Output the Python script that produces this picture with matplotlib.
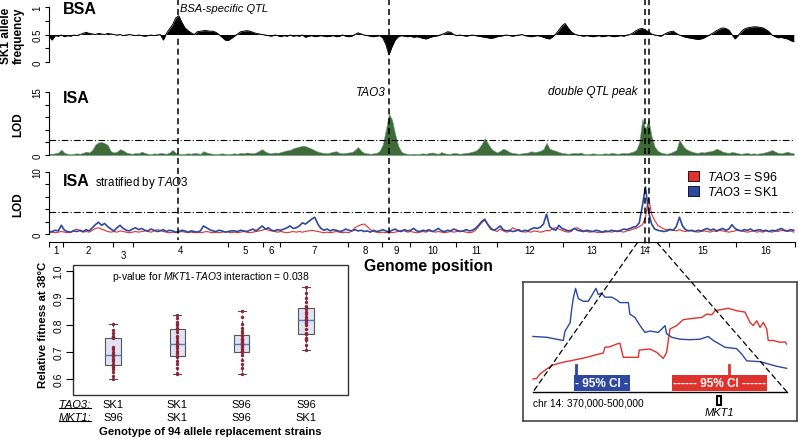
import numpy as np
import matplotlib
matplotlib.use('Agg')
import matplotlib.pyplot as plt
from matplotlib.patches import Rectangle, Patch, ConnectionPatch
from matplotlib.lines import Line2D
from matplotlib.transforms import blended_transform_factory

plt.rcParams['font.family'] = 'Liberation Sans'
plt.rcParams['mathtext.fontset'] = 'custom'
plt.rcParams['mathtext.it'] = 'Liberation Sans:italic'
plt.rcParams['mathtext.rm'] = 'Liberation Sans'
plt.rcParams['mathtext.bf'] = 'Liberation Sans:bold'

# --- data -------------------------------------------------------------
# yeast chromosome lengths (Mb), chromosomes 1..16
chrom_len = [0.230, 0.813, 0.317, 1.532, 0.577, 0.270, 1.091, 0.563,
             0.440, 0.745, 0.667, 1.078, 0.924, 0.784, 1.091, 0.948]
chrom_names = [str(i) for i in range(1, 17)]

# genome scan sampled every 50 kb along the concatenated genome
scan_step_mb = 0.05
bsa_freq = [
    0.47, 0.40, 0.48, 0.47, 0.49, 0.46, 0.48, 0.47, 0.49, 0.48,
    0.50, 0.52, 0.54, 0.52, 0.51, 0.50, 0.52, 0.51, 0.50, 0.52,
    0.51, 0.50, 0.49, 0.50, 0.48, 0.49, 0.50, 0.49, 0.48, 0.49,
    0.48, 0.47, 0.48, 0.49, 0.48, 0.49, 0.50, 0.40, 0.52, 0.60,
    0.68, 0.80, 0.84, 0.72, 0.62, 0.57, 0.53, 0.50, 0.55, 0.56,
    0.57, 0.57, 0.56, 0.56, 0.54, 0.50, 0.45, 0.40, 0.39, 0.43,
    0.47, 0.51, 0.55, 0.56, 0.57, 0.56, 0.54, 0.52, 0.51, 0.50,
    0.49, 0.48, 0.47, 0.49, 0.48, 0.46, 0.48, 0.47, 0.49, 0.47,
    0.48, 0.47, 0.49, 0.45, 0.47, 0.48, 0.46, 0.47, 0.48, 0.47,
    0.46, 0.47, 0.48, 0.46, 0.47, 0.49, 0.47, 0.46, 0.47, 0.50,
    0.53, 0.51, 0.49, 0.48, 0.47, 0.46, 0.47, 0.48, 0.44, 0.32,
    0.13, 0.28, 0.40, 0.46, 0.48, 0.47, 0.46, 0.47, 0.45, 0.46,
    0.45, 0.43, 0.42, 0.44, 0.46, 0.47, 0.48, 0.50, 0.52, 0.55,
    0.54, 0.50, 0.48, 0.49, 0.48, 0.47, 0.48, 0.49, 0.48, 0.47,
    0.46, 0.45, 0.44, 0.43, 0.44, 0.46, 0.47, 0.48, 0.49, 0.48,
    0.47, 0.48, 0.49, 0.50, 0.48, 0.47, 0.46, 0.47, 0.48, 0.47,
    0.45, 0.43, 0.42, 0.46, 0.51, 0.58, 0.66, 0.70, 0.62, 0.55,
    0.51, 0.49, 0.48, 0.47, 0.48, 0.47, 0.46, 0.47, 0.48, 0.46,
    0.47, 0.48, 0.47, 0.46, 0.47, 0.48, 0.47, 0.49, 0.50, 0.53,
    0.57, 0.60, 0.61, 0.58, 0.55, 0.51, 0.49, 0.48, 0.47, 0.50,
    0.53, 0.55, 0.56, 0.52, 0.49, 0.47, 0.45, 0.44, 0.43, 0.42,
    0.41, 0.42, 0.44, 0.47, 0.50, 0.53, 0.57, 0.60, 0.62, 0.61,
    0.58, 0.50, 0.42, 0.48, 0.55, 0.60, 0.62, 0.63, 0.64, 0.64,
    0.63, 0.62, 0.59, 0.55, 0.49, 0.46, 0.44, 0.45, 0.43, 0.42,
    0.39, 0.37]
isa_lod = [
    0.2, 0.3, 0.4, 0.6, 1.3, 0.5, 0.3, 0.2, 0.3, 0.4,
    0.3, 0.5, 0.8, 0.6, 1.2, 2.5, 3.0, 3.1, 2.8, 2.4,
    0.9, 0.6, 0.8, 1.4, 1.1, 0.6, 0.4, 0.3, 0.5, 0.4,
    0.8, 0.5, 0.3, 0.2, 0.4, 0.3, 0.5, 0.4, 0.3, 0.6,
    1.2, 0.5, 0.3, 0.2, 0.3, 0.4, 0.3, 0.5, 0.4, 0.3,
    0.9, 0.6, 0.4, 0.3, 0.2, 0.3, 0.4, 0.3, 0.2, 0.3,
    0.4, 0.3, 0.5, 0.4, 0.6, 0.5, 0.4, 0.6, 1.0, 1.4,
    0.8, 0.5, 0.4, 0.6, 0.5, 0.7, 0.9, 1.1, 1.2, 1.6,
    1.8, 2.0, 2.2, 2.1, 1.8, 1.5, 1.1, 0.8, 0.6, 0.5,
    0.4, 0.6, 0.8, 0.9, 0.5, 0.4, 0.5, 0.6, 0.7, 1.2,
    1.9, 1.0, 0.5, 0.4, 0.3, 0.4, 0.5, 1.0, 2.5, 6.0,
    9.8, 8.4, 5.0, 2.2, 0.8, 0.4, 0.3, 0.2, 0.3, 0.2,
    0.3, 0.4, 0.3, 0.5, 0.6, 0.4, 0.3, 0.7, 0.4, 0.3,
    0.3, 0.5, 0.4, 0.3, 0.4, 0.5, 0.6, 0.8, 1.0, 1.6,
    2.6, 4.0, 2.8, 1.6, 1.0, 0.6, 1.0, 1.5, 1.2, 0.7,
    0.5, 0.4, 0.3, 0.4, 0.5, 0.6, 0.9, 0.7, 0.8, 1.0,
    1.4, 2.9, 1.5, 1.2, 1.0, 0.7, 0.5, 0.4, 0.3, 0.4,
    0.5, 0.4, 0.6, 0.3, 0.2, 0.3, 0.4, 0.3, 0.2, 0.3,
    0.4, 0.3, 0.5, 0.4, 0.3, 0.4, 0.5, 0.4, 0.6, 0.8,
    1.2, 3.0, 8.6, 6.2, 8.4, 4.4, 2.0, 1.0, 0.6, 0.4,
    0.3, 0.5, 0.8, 1.2, 3.6, 2.4, 1.5, 1.1, 0.8, 0.6,
    0.5, 0.7, 0.6, 0.8, 0.9, 1.1, 1.5, 1.2, 0.8, 0.6,
    0.5, 0.7, 0.6, 0.4, 0.3, 0.4, 0.5, 0.3, 0.4, 0.3,
    0.4, 0.5, 0.7, 0.9, 1.2, 0.8, 0.5, 0.4, 0.6, 0.8,
    0.5, 0.4]
lod_sk1 = [
    0.3, 0.4, 0.6, 0.5, 1.4, 0.6, 0.4, 0.3, 0.5, 0.4,
    0.6, 0.4, 0.7, 0.5, 1.0, 1.5, 1.9, 1.4, 1.7, 1.2,
    0.8, 0.5, 1.0, 1.4, 0.9, 0.6, 0.5, 0.8, 1.0, 0.7,
    0.9, 0.6, 0.5, 0.8, 0.6, 0.4, 0.5, 0.7, 0.4, 0.6,
    0.5, 0.3, 0.4, 0.6, 0.5, 0.3, 0.5, 0.4, 0.3, 0.5,
    1.3, 1.0, 0.7, 0.5, 0.4, 0.6, 0.5, 0.3, 0.4, 0.5,
    0.5, 0.4, 0.6, 0.5, 0.4, 0.6, 0.8, 0.5, 0.9, 1.3,
    0.8, 1.0, 0.6, 0.5, 0.7, 0.6, 0.8, 1.0, 1.3, 0.9,
    1.0, 1.3, 1.8, 1.6, 2.0, 2.4, 2.7, 1.6, 0.9, 0.6,
    0.8, 0.5, 0.7, 0.6, 0.4, 0.5, 0.8, 0.6, 0.5, 0.7,
    0.5, 0.6, 0.4, 0.5, 0.3, 0.6, 0.4, 0.5, 0.7, 0.5,
    0.3, 0.6, 0.8, 0.5, 0.4, 0.7, 0.5, 0.6, 0.9, 0.5,
    0.4, 0.6, 0.5, 0.7, 0.4, 0.6, 0.9, 0.5, 0.4, 0.6,
    0.5, 0.8, 0.6, 0.4, 0.5, 0.7, 0.5, 0.6, 0.9, 1.4,
    2.0, 2.4, 1.5, 0.8, 0.6, 0.9, 1.3, 0.7, 0.5, 0.6,
    0.4, 0.5, 0.7, 0.4, 0.6, 0.5, 0.8, 1.0, 0.9, 1.1,
    1.6, 3.2, 1.2, 0.8, 0.6, 1.4, 0.9, 0.7, 0.5, 0.6,
    0.9, 0.6, 0.5, 0.4, 0.6, 0.5, 0.4, 0.6, 0.5, 0.3,
    0.5, 0.4, 0.6, 0.5, 0.4, 0.6, 0.8, 0.7, 0.9, 1.1,
    1.2, 1.8, 4.5, 7.6, 3.6, 1.6, 0.8, 0.6, 0.5, 0.4,
    0.5, 0.7, 0.6, 1.2, 2.7, 1.3, 0.7, 0.5, 0.6, 0.4,
    0.6, 0.5, 0.7, 0.9, 0.6, 0.8, 0.5, 0.7, 0.9, 0.6,
    0.8, 1.5, 0.9, 0.6, 0.5, 0.7, 0.6, 0.8, 0.5, 0.6,
    0.7, 0.5, 0.6, 0.4, 0.6, 0.5, 0.7, 0.9, 0.6, 0.5,
    0.7, 0.6]
lod_s96 = [
    0.2, 0.3, 0.2, 0.3, 0.4, 0.3, 0.2, 0.3, 0.6, 0.8,
    0.5, 0.3, 0.4, 0.3, 0.6, 0.9, 1.0, 0.8, 0.6, 0.4,
    0.3, 0.4, 0.3, 0.5, 0.4, 0.3, 0.2, 0.3, 0.4, 0.3,
    0.4, 0.5, 0.4, 0.3, 0.5, 0.7, 0.6, 0.4, 0.3, 0.2,
    0.3, 0.2, 0.3, 0.4, 0.3, 0.2, 0.3, 0.2, 0.3, 0.2,
    0.3, 0.4, 0.3, 0.2, 0.3, 0.2, 0.3, 0.4, 0.3, 0.2,
    0.3, 0.2, 0.3, 0.4, 0.3, 0.2, 0.3, 0.4, 0.5, 0.6,
    0.8, 0.6, 0.5, 0.4, 0.3, 0.4, 0.3, 0.2, 0.3, 0.4,
    0.3, 0.4, 0.3, 0.4, 0.5, 0.6, 0.5, 0.4, 0.3, 0.2,
    0.3, 0.2, 0.3, 0.4, 0.3, 0.2, 0.3, 0.2, 0.5, 1.0,
    1.3, 1.5, 1.6, 1.2, 0.7, 0.4, 0.3, 0.2, 0.3, 0.2,
    0.3, 0.2, 0.3, 0.4, 0.6, 0.5, 0.3, 0.4, 0.3, 0.2,
    0.3, 0.4, 0.3, 0.5, 0.4, 0.3, 0.4, 0.3, 0.2, 0.3,
    0.4, 0.3, 0.4, 0.5, 0.4, 0.3, 0.2, 0.3, 0.6, 1.2,
    1.8, 2.2, 1.6, 1.0, 0.6, 0.4, 0.8, 0.5, 0.3, 0.4,
    1.0, 0.8, 0.5, 0.4, 0.3, 0.4, 0.3, 0.5, 0.4, 0.3,
    0.4, 0.6, 0.5, 0.9, 1.0, 0.8, 0.6, 0.4, 0.3, 0.4,
    0.9, 1.0, 0.7, 0.5, 0.4, 0.3, 0.4, 0.3, 0.2, 0.3,
    0.3, 0.4, 0.3, 0.4, 0.5, 0.4, 0.3, 0.5, 0.6, 0.8,
    0.9, 1.2, 1.5, 2.6, 5.9, 3.2, 2.2, 1.4, 1.1, 0.8,
    0.7, 0.8, 0.6, 0.5, 0.7, 0.5, 0.4, 0.6, 0.5, 0.4,
    0.3, 0.4, 0.5, 0.4, 0.3, 0.5, 0.4, 0.6, 0.5, 0.4,
    0.3, 0.4, 0.5, 0.7, 0.5, 0.4, 0.3, 0.4, 0.5, 0.3,
    0.4, 0.3, 0.5, 0.4, 0.3, 0.5, 0.4, 0.6, 0.5, 0.4,
    0.5, 0.3]
lod_threshold = 3.5

# QTL positions (chromosome index, position on chromosome in Mb)
bsa_qtl = (4, 0.727)
tao3_locus = (9, 0.110)
chr14_peaks = [(14, 0.400), (14, 0.467)]

# zoom on chr14 (kb)
window_kb = (370, 500)
inset_sk1_kb = [370, 377, 385.5, 386.4, 389, 389.8, 390.6, 391.8, 393.2, 395.7,
                398.3, 400, 402.2, 403.4, 405.2, 406.8, 410.3, 412.8, 414.5, 418.8,
                419.6, 422.2, 424.8, 427.3, 429.9, 434.1, 435.9, 437.6, 438.4, 441,
                445.2, 450.3, 455.5, 459.7, 462.3, 468.3, 474.2, 476.8, 479.4, 486.2,
                490.4, 494.7, 499.8]
inset_sk1_lod = [4.1, 4.04, 3.8, 4.5, 5.1, 6.1, 6.9, 7.65, 6.9, 6.7,
                 6.7, 7.1, 7.65, 7.2, 7.3, 7.0, 7.0, 6.8, 6.6, 6.6,
                 5.75, 5.5, 4.9, 4.4, 4.5, 4.4, 4.65, 4.9, 4.3, 4.04,
                 3.9, 3.86, 3.9, 4.1, 3.8, 3.3, 3.2, 2.8, 2.3, 2.24,
                 2.07, 1.9, 1.75]
inset_s96_kb = [370, 371.9, 373.6, 377, 380.4, 385.5, 392.4, 397.5, 401.7, 406,
                406.8, 409.4, 412.8, 414.5, 416.2, 423.9, 424.4, 429.9, 433.3, 436.7,
                438.4, 440.1, 443.5, 446.9, 452, 456.3, 458.9, 461.5, 463.1, 465.7,
                469.9, 474.2, 478.5, 481, 482.7, 484.5, 486.2, 487.9, 489.6, 490.4,
                493, 496.4, 499, 499.8]
inset_s96_lod = [0.96, 1.0, 1.33, 1.7, 2.0, 2.2, 2.4, 2.56, 2.73, 2.88,
                 3.3, 3.34, 3.54, 3.6, 2.56, 2.56, 3.1, 3.17, 2.93, 2.48,
                 2.93, 4.65, 4.9, 5.34, 5.44, 5.5, 5.75, 5.7, 6.0, 6.07,
                 6.18, 6.0, 5.9, 5.14, 4.9, 5.26, 4.77, 5.14, 4.65, 3.8,
                 3.8, 3.67, 3.7, 3.54]
ci_sk1 = (391.0, 419.6)
ci_s96 = (441.1, 489.8)
peak_sk1_kb = 392.0
peak_s96_kb = 470.3
mkt1_kb = 465.2

# allele replacement strains
tao3_alleles = ['SK1', 'SK1', 'S96', 'S96']
mkt1_alleles = ['S96', 'SK1', 'S96', 'SK1']
fitness = [
    [0.600, 0.612, 0.625, 0.637, 0.645, 0.650, 0.655, 0.665, 0.675, 0.684, 0.688, 0.690,
     0.693, 0.700, 0.712, 0.720, 0.752, 0.755, 0.757, 0.760, 0.770, 0.780, 0.803],
    [0.620, 0.622, 0.640, 0.655, 0.668, 0.680, 0.685, 0.695, 0.705, 0.715, 0.722, 0.728,
     0.733, 0.740, 0.752, 0.760, 0.775, 0.785, 0.790, 0.800, 0.805, 0.812, 0.825, 0.838],
    [0.618, 0.640, 0.655, 0.670, 0.690, 0.700, 0.702, 0.705, 0.712, 0.718, 0.725, 0.730,
     0.733, 0.738, 0.745, 0.748, 0.750, 0.760, 0.772, 0.778, 0.790, 0.805, 0.830, 0.852],
    [0.708, 0.725, 0.745, 0.748, 0.752, 0.765, 0.770, 0.785, 0.800, 0.808, 0.812, 0.820,
     0.822, 0.830, 0.840, 0.848, 0.858, 0.865, 0.870, 0.885, 0.900, 0.920, 0.940],
]

# --- derived -------------------------------------------------------------
chrom_start = np.concatenate([[0], np.cumsum(chrom_len)[:-1]])
chrom_edges = np.concatenate([[0], np.cumsum(chrom_len)])
chrom_mid = chrom_start + np.array(chrom_len) / 2
genome_len = chrom_edges[-1]
pos_mb = np.arange(len(bsa_freq)) * scan_step_mb


def gpos(loc):
    return chrom_start[loc[0] - 1] + loc[1]


W, H = 798, 439
fig = plt.figure(figsize=(W / 100, H / 100), dpi=100)


def box(l, t, r, b):
    return [l / W, 1 - b / H, (r - l) / W, (b - t) / H]


RED = '#e0322c'
BLUE = '#2c48a0'
GREEN = '#3e6b38'

ax1 = fig.add_axes(box(49, 8, 795, 63))
ax2 = fig.add_axes(box(49, 93, 795, 156))
ax3 = fig.add_axes(box(49, 173, 795, 243))
axb = fig.add_axes(box(73, 266, 348, 396))
axi = fig.add_axes(box(523, 283, 797, 422))

for ax in (ax1, ax2, ax3):
    ax.set_xlim(0, genome_len)
    for s in ('top', 'right'):
        ax.spines[s].set_visible(False)
    ax.tick_params(axis='y', labelsize=7, length=3, width=0.8, labelrotation=90, pad=1.5)
    ax.set_facecolor('none')

# BSA
ax1.fill_between(pos_mb, 0.5, bsa_freq, color='black', lw=0)
ax1.plot(pos_mb, bsa_freq, color='black', lw=0.7)
ax1.set_ylim(0, 1)
ax1.spines['bottom'].set_visible(False)
ax1.spines['left'].set_bounds(0, 1)
ax1.set_xticks([])
ax1.set_yticks([0, 0.25, 0.5, 0.75, 1])
ax1.set_yticklabels(['0', '', '0.5', '', '1'], va='center')
ax1.set_ylabel('SK1 allele\nfrequency', fontsize=8.5, fontweight='bold', linespacing=1.0)
ax1.yaxis.set_label_coords(-0.033, 0.5)
ax1.text(0.019, 0.89, 'BSA', transform=ax1.transAxes, fontsize=11.5, fontweight='bold', va='baseline')
ax1.text(gpos(bsa_qtl) + 0.04, 0.92, 'BSA-specific QTL', fontsize=8, style='italic', va='baseline')

# ISA
ax2.fill_between(pos_mb, 0, isa_lod, facecolor=GREEN, edgecolor='#6a9a80', lw=0.4)
ax2.set_ylim(0, 15)
ax2.spines['bottom'].set_visible(False)
ax2.spines['left'].set_bounds(0, 15)
ax2.set_xticks([])
ax2.set_yticks([0, 3, 6, 9, 12, 15])
ax2.set_yticklabels(['0', '', '', '', '', '15'], va='center')
ax2.axhline(lod_threshold, color='black', lw=0.8, ls=(0, (6, 2, 1, 2)))
ax2.set_ylabel('LOD', fontsize=8.5, fontweight='bold')
ax2.yaxis.set_label_coords(-0.033, 0.5)
ax2.text(0.019, 0.837, 'ISA', transform=ax2.transAxes, fontsize=11.5, fontweight='bold', va='baseline')
ax2.text(gpos(tao3_locus) - 0.06, 14.3, 'TAO3', fontsize=8.5, style='italic', ha='right', va='baseline')
ax2.text(gpos(chr14_peaks[0]) - 0.12, 14.5, 'double QTL peak', fontsize=8.5, style='italic',
         ha='right', va='baseline')

# ISA stratified
ax3.plot(pos_mb, lod_s96, color=RED, lw=0.8)
ax3.plot(pos_mb, lod_sk1, color=BLUE, lw=1.2)
ax3.axhline(lod_threshold, color='black', lw=0.8, ls=(0, (6, 2, 1, 2)))
ax3.set_ylim(-1.29, 10)
ax3.spines['left'].set_bounds(0, 10)
ax3.set_yticks([0, 2, 4, 6, 8, 10])
ax3.set_yticklabels(['0', '', '', '', '', '10'], va='center')
ax3.set_ylabel('LOD', fontsize=8.5, fontweight='bold')
ax3.yaxis.set_label_coords(-0.033, 0.55)
ax3.set_xticks(chrom_edges)
ax3.set_xticklabels([])
ax3.tick_params(axis='x', length=3.5, width=0.8)
xt = blended_transform_factory(ax3.transData, ax3.transAxes)
for name, mid in zip(chrom_names, chrom_mid):
    drop = 5.5 if name == '3' else 2.5
    ax3.annotate(name, xy=(mid, 0), xycoords=xt, xytext=(0, -drop), textcoords='offset points',
                 ha='center', va='top', fontsize=7)
ax3.text(0.019, 0.819, 'ISA', transform=ax3.transAxes, fontsize=11.5, fontweight='bold', va='baseline')
ax3.text(0.0617, 0.819, r'stratified by $\mathit{TAO3}$', transform=ax3.transAxes, fontsize=8.3,
         va='baseline')
ax3.set_xlabel('Genome position', fontsize=11.3, fontweight='bold')
ax3.xaxis.set_label_coords(0.509, -0.23)
handles = [Patch(facecolor=RED, edgecolor='black', lw=0.6), Patch(facecolor=BLUE, edgecolor='black', lw=0.6)]
ax3.legend(handles, [r'$\mathit{TAO3}$ = S96', r'$\mathit{TAO3}$ = SK1'], loc='upper left',
           bbox_to_anchor=(688 / W, 1 - 171 / H), bbox_transform=fig.transFigure, frameon=False,
           fontsize=9, handlelength=0.9, handleheight=0.9, labelspacing=0.2, handletextpad=0.6,
           borderpad=0, borderaxespad=0)

# vertical QTL lines across all three panels
vt = blended_transform_factory(ax3.transData, fig.transFigure)
for loc, bottom in [(bsa_qtl, 241), (tao3_locus, 241), (chr14_peaks[0], 249), (chr14_peaks[1], 249)]:
    x = gpos(loc)
    ax3.plot([x, x], [1.0, 1 - bottom / H], transform=vt, color='black', lw=1.1,
             ls=(0, (4, 2.5)), clip_on=False, zorder=5)

# boxplot
pos = np.arange(1, 5)
axb.boxplot(fitness, positions=pos, widths=0.24, whis=(0, 100), patch_artist=True, showfliers=False,
            medianprops=dict(color='#4b80c8', lw=1.0),
            boxprops=dict(facecolor='#e2e2f4', edgecolor='#555555', lw=0.8),
            whiskerprops=dict(color='#555555', lw=0.8, ls=(0, (3, 2))),
            capprops=dict(color='#555555', lw=0.8))
for p, vals in zip(pos, fitness):
    axb.scatter(np.full(len(vals), p), vals, s=6, color='#8b2636', zorder=3, lw=0)
axb.set_xlim(0.378, 4.653)
axb.set_ylim(0.541, 1.022)
for s in ('top', 'right', 'bottom'):
    axb.spines[s].set_visible(False)
axb.add_patch(Rectangle((0, 0), 1, 1, transform=axb.transAxes, fill=False, lw=1.0,
                        edgecolor='#333333', clip_on=False))
axb.spines['left'].set_bounds(0.6, 1.0)
axb.set_xticks([])
axb.set_yticks([0.6, 0.7, 0.8, 0.9, 1.0])
axb.set_yticklabels(['0.6', '0.7', '0.8', '0.9', '1.0'], va='center')
axb.tick_params(axis='y', labelsize=7.5, length=5, width=0.8, labelrotation=90, pad=2)
axb.set_ylabel('Relative fitness at 38°C', fontsize=8.2, fontweight='bold')
axb.yaxis.set_label_coords(-0.09, 0.546)
axb.text(0.5, 0.915, r'p-value for $\mathit{MKT1}$-$\mathit{TAO3}$ interaction = 0.038',
         transform=axb.transAxes, ha='center', va='center', fontsize=7.4)
bt = blended_transform_factory(axb.transData, axb.transAxes)
for p, a, b in zip(pos, tao3_alleles, mkt1_alleles):
    axb.text(p, -0.069, a, transform=bt, ha='center', va='center', fontsize=8)
    axb.text(p, -0.169, b, transform=bt, ha='center', va='center', fontsize=8)
row_labels = [axb.text(0.41, -0.069, 'TAO3:', transform=bt, ha='center', va='center',
                       fontsize=8, style='italic'),
              axb.text(0.41, -0.169, 'MKT1:', transform=bt, ha='center', va='center',
                       fontsize=8, style='italic')]
axb.text(0.5, -0.277, 'Genotype of 94 allele replacement strains', transform=axb.transAxes,
         ha='center', va='center', fontsize=8.1, fontweight='bold')

# chr14 inset
axi.plot(inset_s96_kb, inset_s96_lod, color=RED, lw=1.0)
axi.plot(inset_sk1_kb, inset_sk1_lod, color=BLUE, lw=1.0)
axi.plot(window_kb, [0, 0], color='black', lw=1.0)
axi.set_xlim(364.9, 505.1)
axi.set_ylim(-2.14, 8.12)
axi.set_xticks([])
axi.set_yticks([])
for s in axi.spines.values():
    s.set_color('#444444')
    s.set_linewidth(1.2)
for ci, peak, col, label in [(ci_sk1, peak_sk1_kb, BLUE, '- 95% CI -'),
                             (ci_s96, peak_s96_kb, RED, '------ 95% CI ------')]:
    axi.add_patch(Rectangle((ci[0], 0.07), ci[1] - ci[0], 1.18, facecolor=col, edgecolor='none'))
    axi.plot([peak, peak], [1.25, 2.0], color=col, lw=2)
    axi.text((ci[0] + ci[1]) / 2, 0.66, label, color='white', fontweight='bold', fontsize=8.5,
             ha='center', va='center')
axi.text(window_kb[0], -0.4, 'chr 14: 370,000-500,000', fontsize=7.3, ha='left', va='top')
axi.add_patch(Rectangle((mkt1_kb - 0.8, -0.95), 1.6, 0.65, facecolor='white', edgecolor='black', lw=1.5))
axi.text(mkt1_kb, -1.5, 'MKT1', fontsize=8, style='italic', ha='center', va='center')

# zoom guide lines
for xa, xb in [(9.52, window_kb[0]), (9.84, window_kb[1])]:
    con = ConnectionPatch(xyA=(xa, -1.4), coordsA=ax3.transData, xyB=(xb, 0), coordsB=axi.transData,
                          color='black', lw=0.9, ls=(0, (4, 3)))
    fig.add_artist(con)

# underline the gene names of the genotype rows
fig.canvas.draw()
for t in row_labels:
    bb = t.get_window_extent()
    y = (bb.y0 + 1) / fig.bbox.height
    fig.add_artist(Line2D([bb.x0 / fig.bbox.width, bb.x1 / fig.bbox.width], [y, y],
                          transform=fig.transFigure, color='black', lw=0.8))

fig.savefig('out.png', dpi=100)
